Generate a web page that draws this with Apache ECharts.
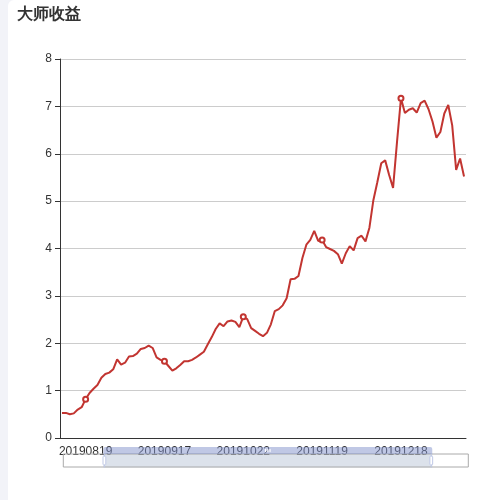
<!DOCTYPE html>
<html>
<head>
<meta charset="utf-8">
<script src="https://cdn.jsdelivr.net/npm/echarts@6/dist/echarts.min.js"></script>
<style>
  html, body { margin: 0; padding: 0; background: #f2f3f8; }
  #main { position: absolute; left: 8px; top: 0; width: 492px; height: 500px; background: #fff; border-radius: 6px 0 0 0; }
</style>
</head>
<body>
<div id="main"></div>
<script>
// trading dates shown on the x axis
var dates = [
  '20190809','20190812','20190813','20190814','20190815','20190816','20190819','20190820','20190821','20190822',
  '20190823','20190826','20190827','20190828','20190829','20190830','20190902','20190903','20190904','20190905',
  '20190906','20190909','20190910','20190911','20190912','20190916','20190917','20190918','20190919','20190920',
  '20190923','20190924','20190925','20190926','20190927','20190930','20191008','20191009','20191010','20191011',
  '20191014','20191015','20191016','20191017','20191018','20191021','20191022','20191023','20191024','20191025',
  '20191028','20191029','20191030','20191031','20191101','20191104','20191105','20191106','20191107','20191108',
  '20191111','20191112','20191113','20191114','20191115','20191118','20191119','20191120','20191121','20191122',
  '20191125','20191126','20191127','20191128','20191129','20191202','20191203','20191204','20191205','20191206',
  '20191209','20191211','20191212','20191213','20191216','20191217','20191218','20191219','20191220','20191223',
  '20191224','20191225','20191226','20191227','20191230','20191231','20200102','20200103','20200106','20200107',
  '20200108','20200109','20200110'
];
// 大师收益
var profit = [
  0.53,0.53,0.50,0.52,0.60,0.65,0.82,0.95,1.04,1.12,
  1.27,1.35,1.38,1.45,1.66,1.55,1.59,1.72,1.73,1.78,
  1.88,1.90,1.95,1.90,1.70,1.65,1.62,1.52,1.42,1.47,
  1.54,1.62,1.62,1.65,1.70,1.76,1.82,1.98,2.13,2.30,
  2.42,2.36,2.46,2.48,2.45,2.34,2.56,2.51,2.32,2.26,
  2.20,2.15,2.22,2.40,2.68,2.72,2.80,2.95,3.35,3.36,
  3.42,3.80,4.08,4.18,4.37,4.16,4.18,4.03,3.99,3.95,
  3.88,3.68,3.90,4.05,3.96,4.22,4.27,4.15,4.44,5.02,
  5.40,5.80,5.86,5.55,5.28,6.25,7.17,6.86,6.93,6.96,
  6.87,7.07,7.12,6.94,6.68,6.34,6.46,6.85,7.03,6.60,
  5.66,5.90,5.52
];

var isLabel = function (i) { return (i - 6) % 20 === 0; };
var isTick = function (i) { return (i - 16) % 20 === 0; };

var chart = echarts.init(document.getElementById('main'));
chart.setOption({
  animation: false,
  title: { text: '大师收益', left: 4, top: 2, textStyle: { fontSize: 16, fontWeight: 'bold', color: '#333' } },
  grid: { left: 52, right: 34, top: 59, bottom: 62 },
  xAxis: [{
    type: 'category',
    data: dates,
    axisLine: { lineStyle: { color: '#333' } },
    axisTick: { alignWithLabel: true, interval: function (i) { return isTick(i); } },
    axisLabel: { color: '#333', fontSize: 12, interval: function (i) { return isLabel(i); } }
  }, {
    type: 'category', data: dates, show: false
  }],
  yAxis: {
    type: 'value', min: 0, max: 8, interval: 1,
    axisLine: { show: true, lineStyle: { color: '#333' } },
    axisTick: { show: true },
    axisLabel: { color: '#333' },
    splitLine: { lineStyle: { color: '#ccc' } }
  },
  dataZoom: [{
    type: 'slider', xAxisIndex: 1, start: 10, end: 91,
    left: 52, right: 34, bottom: 39, height: 14,
    showDetail: false, showDataShadow: false,
    borderColor: '#aaa', fillerColor: 'rgba(167,183,204,0.4)'
  }],
  series: [{
    type: 'line',
    data: profit,
    symbol: 'emptyCircle',
    showSymbol: true,
    symbolSize: function (v, p) { return isLabel(p.dataIndex) ? 5 : 0; },
    itemStyle: { color: '#c23531' },
    lineStyle: { color: '#c23531', width: 2 }
  }]
});
</script>
</body>
</html>
